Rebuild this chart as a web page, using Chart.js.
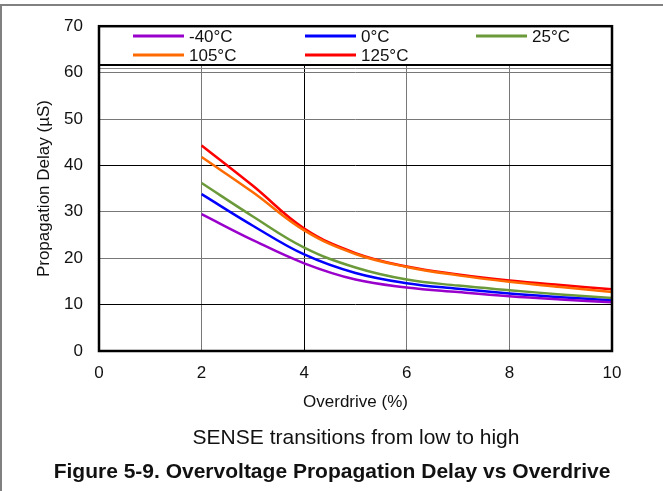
<!DOCTYPE html>
<html>
<head>
<meta charset="utf-8">
<script src="https://cdn.jsdelivr.net/npm/chart.js@4.4.1/dist/chart.umd.min.js"></script>
<style>
  html, body { margin: 0; padding: 0; background: #fff; }
  #wrap { width: 663px; height: 491px; }
</style>
</head>
<body>
<div id="wrap"><canvas id="delayChart" width="663" height="491"></canvas></div>
<script>
// overdrive (%) on x, propagation delay (uS) on y
const overdrive = [2, 3, 4, 5, 6, 7, 8, 9, 10];
const tempLabels = ['-40°C', '0°C', '25°C', '105°C', '125°C'];
const tempColors = ['#9900cc', '#0000ff', '#6b9a3a', '#ff6a00', '#ff0000'];
const delayM40 = [29.5, 23.9, 18.9, 15.4, 13.7, 12.7, 11.8, 11.1, 10.5];
const delay0   = [33.8, 27.0, 20.8, 16.8, 14.6, 13.4, 12.4, 11.6, 10.9];
const delay25  = [36.2, 29.0, 22.3, 18.0, 15.4, 14.1, 13.1, 12.2, 11.4];
const delay105 = [41.8, 34.2, 26.0, 20.9, 18.1, 16.3, 14.9, 13.8, 12.7];
const delay125 = [44.3, 35.6, 26.4, 21.1, 18.2, 16.5, 15.2, 14.2, 13.3];
const xTicks = [0, 2, 4, 6, 8, 10];
const yTicks = [0, 10, 20, 30, 40, 50, 60, 70];

const allDelays = [delayM40, delay0, delay25, delay105, delay125];
const FONT = 'Liberation Sans, Arial, sans-serif';

function toPoints(ys) {
  let pts = [];
  for (var i = 0; i < overdrive.length; i++) {
    pts.push({x: overdrive[i], y: ys[i]});
  }
  return pts;
}

let datasets = [];
for (var i = 0; i < tempLabels.length; i++) {
  datasets.push({
    label: tempLabels[i],
    data: toPoints(allDelays[i]),
    borderColor: tempColors[i],
    backgroundColor: tempColors[i],
    borderWidth: 2.5,
    pointRadius: 0,
    tension: 0.4
  });
}

// frame, plot border, legend box and captions
const decorations = {
  id: 'decorations',
  afterDatasetsDraw(chart) {
    const c = chart.ctx;
    const a = chart.chartArea;
    c.save();

    // legend box sitting between 70 and ~61
    const boxBottom = 65;
    c.fillStyle = '#fff';
    c.fillRect(a.left, a.top, a.right - a.left, boxBottom - a.top);
    c.strokeStyle = '#000';
    c.lineWidth = 2;
    c.beginPath();
    c.moveTo(a.left, boxBottom);
    c.lineTo(a.right, boxBottom);
    c.stroke();
    c.strokeStyle = '#888';
    c.lineWidth = 1;
    c.beginPath();
    c.moveTo(a.left, 68.5);
    c.lineTo(a.right, 68.5);
    c.stroke();

    const cols = [133, 305, 476];
    const rows = [36, 55];
    c.font = '17px ' + FONT;
    c.textBaseline = 'middle';
    c.textAlign = 'left';
    for (var i = 0; i < tempLabels.length; i++) {
      const cx = cols[i % 3];
      const cy = rows[Math.floor(i / 3)];
      c.strokeStyle = tempColors[i];
      c.lineWidth = 3;
      c.beginPath();
      c.moveTo(cx, cy);
      c.lineTo(cx + 51, cy);
      c.stroke();
      c.fillStyle = '#111';
      c.fillText(tempLabels[i], cx + 56, cy + 1);
    }

    // thick plot border
    c.strokeStyle = '#000';
    c.lineWidth = 2.5;
    c.strokeRect(a.left, a.top, a.right - a.left, a.bottom - a.top);

    // titles
    c.fillStyle = '#111';
    c.textAlign = 'center';
    c.font = '17px ' + FONT;
    c.fillText('Overdrive (%)', (a.left + a.right) / 2, 402);
    c.font = '21px ' + FONT;
    c.fillText('SENSE transitions from low to high', 356, 438);
    c.font = 'bold 21px ' + FONT;
    c.fillText('Figure 5-9. Overvoltage Propagation Delay vs Overdrive', 332, 472);

    c.save();
    c.translate(44, (a.top + a.bottom) / 2);
    c.rotate(-Math.PI / 2);
    c.font = '17px ' + FONT;
    c.fillText('Propagation Delay (µS)', 0, 0);
    c.restore();

    // outer figure frame
    c.strokeStyle = '#808080';
    c.lineWidth = 2;
    c.beginPath();
    c.moveTo(1, 491);
    c.lineTo(1, 5);
    c.lineTo(663, 5);
    c.stroke();

    c.restore();
  }
};

const ctx = document.getElementById('delayChart');
new Chart(ctx, {
  type: 'line',
  data: { datasets: datasets },
  options: {
    responsive: false,
    animation: false,
    devicePixelRatio: 1,
    layout: { padding: { top: 25, right: 51, bottom: 0, left: 0 } },
    plugins: {
      legend: { display: false },
      tooltip: { enabled: false }
    },
    scales: {
      x: {
        type: 'linear',
        min: 0,
        max: 10,
        afterFit: (s) => { s.height = 140; },
        afterBuildTicks: (s) => { s.ticks = xTicks.map(v => ({value: v})); },
        border: { display: false },
        grid: {
          drawTicks: false,
          lineWidth: 1,
          color: (g) => (g.tick && g.tick.value == 4) ? '#000' : '#777'
        },
        ticks: { padding: 12, color: '#111', font: { family: FONT, size: 17 } }
      },
      y: {
        min: 0,
        max: 70,
        afterFit: (s) => { s.width = 99; },
        afterBuildTicks: (s) => { s.ticks = yTicks.map(v => ({value: v})); },
        border: { display: false },
        grid: {
          drawTicks: false,
          lineWidth: 1,
          color: (g) => {
            const v = g.tick ? g.tick.value : 0;
            return (v == 10 || v == 40) ? '#000' : '#777';
          }
        },
        ticks: { padding: 16, color: '#111', font: { family: FONT, size: 17 } }
      }
    }
  },
  plugins: [decorations]
});
</script>
</body>
</html>
